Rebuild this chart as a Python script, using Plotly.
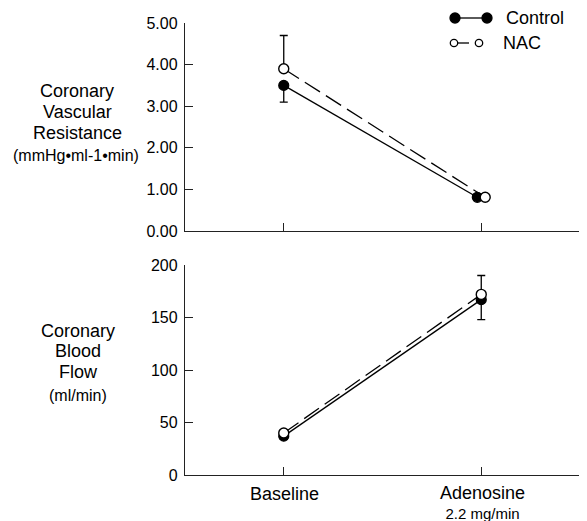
import plotly.graph_objects as go

# ---------------- data ----------------
categories = ["Baseline", "Adenosine"]
cat_pos = [0, 1]
dose_label = "2.2 mg/min"

cvr_control = [3.50, 0.81]
cvr_control_err_minus = [0.40, 0.05]
cvr_nac = [3.90, 0.81]
cvr_nac_err_plus = [0.80, 0.05]

cbf_control = [37, 167]
cbf_control_err_minus = [3, 19]
cbf_nac = [40, 172]
cbf_nac_err_plus = [3, 18]

# small horizontal jitter used in the original at the adenosine point (top panel)
top_offset_control = [0, -0.02]
top_offset_nac = [0, 0.02]

cvr_ticks = [0, 1, 2, 3, 4, 5]
cvr_ticktext = ["0.00", "1.00", "2.00", "3.00", "4.00", "5.00"]
cbf_ticks = [0, 50, 100, 150, 200]

# ---------------- layout geometry ----------------
W, H = 587, 521
OFF = 8  # page body margin offset
# target plot area in screenshot pixels: x 185..580, y 23..475
PL, PR, PT, PB = 185, 580, 23, 475
ML = PL - OFF
MR = W - (PR - OFF)
MT = PT - OFF
MB = H - (PB - OFF)
PW = PR - PL
PH = PB - PT
FONT = "Liberation Sans, Arial, sans-serif"


def px(x):
    return (x - PL) / PW


def py(y):
    return (PB - y) / PH


top_dom = [py(231), 1.0]
bot_dom = [0.0, py(265)]

fig = go.Figure()

marker_ctrl = dict(symbol="circle", size=10, color="black", line=dict(color="black", width=1.2))
marker_nac = dict(symbol="circle", size=10, color="white", line=dict(color="black", width=1.4))
DASH = "18px,7px"

# Top panel (x2, y2)
fig.add_trace(go.Scatter(
    x=[c + o for c, o in zip(cat_pos, top_offset_control)], y=cvr_control,
    mode="lines+markers", line=dict(color="black", width=1.3), marker=marker_ctrl,
    error_y=dict(type="data", symmetric=False, array=[0, 0], arrayminus=cvr_control_err_minus,
                 color="black", thickness=1.3, width=4),
    xaxis="x2", yaxis="y2", showlegend=False))
fig.add_trace(go.Scatter(
    x=[c + o for c, o in zip(cat_pos, top_offset_nac)], y=cvr_nac,
    mode="lines+markers", line=dict(color="black", width=1.3, dash=DASH), marker=marker_nac,
    error_y=dict(type="data", symmetric=False, array=cvr_nac_err_plus, arrayminus=[0, 0],
                 color="black", thickness=1.3, width=4),
    xaxis="x2", yaxis="y2", showlegend=False))

# Bottom panel (x, y)
fig.add_trace(go.Scatter(
    x=cat_pos, y=cbf_control,
    mode="lines+markers", line=dict(color="black", width=1.3), marker=marker_ctrl,
    error_y=dict(type="data", symmetric=False, array=[0, 0], arrayminus=cbf_control_err_minus,
                 color="black", thickness=1.3, width=4),
    xaxis="x", yaxis="y", showlegend=False))
fig.add_trace(go.Scatter(
    x=cat_pos, y=cbf_nac,
    mode="lines+markers", line=dict(color="black", width=1.3, dash=DASH), marker=marker_nac,
    error_y=dict(type="data", symmetric=False, array=cbf_nac_err_plus, arrayminus=[0, 0],
                 color="black", thickness=1.3, width=4),
    xaxis="x", yaxis="y", showlegend=False))

axis_common = dict(showgrid=False, zeroline=False, showline=True, linecolor="#222", linewidth=1.4,
                   ticks="inside", ticklen=8, tickwidth=1.2, tickcolor="#222", automargin=False,
                   tickfont=dict(family=FONT, size=16, color="black"))

fig.update_layout(
    width=W, height=H, autosize=False,
    margin=dict(l=ML, r=MR, t=MT, b=MB, pad=0, autoexpand=False),
    paper_bgcolor="white", plot_bgcolor="white",
    font=dict(family=FONT, color="black"),
    xaxis=dict(domain=[0, 1], anchor="y", range=[-0.5, 1.5], tickvals=cat_pos,
               showticklabels=False, **axis_common),
    yaxis=dict(domain=bot_dom, anchor="x", range=[0, 200], tickvals=cbf_ticks,
               ticklabelstandoff=3, **axis_common),
    xaxis2=dict(domain=[0, 1], anchor="y2", range=[-0.5, 1.5], tickvals=cat_pos,
                showticklabels=False, **axis_common),
    yaxis2=dict(domain=top_dom, anchor="x2", range=[0, 5], tickvals=cvr_ticks,
                ticktext=cvr_ticktext, ticklabelstandoff=3, **axis_common),
)

ann = []


def add_text(text, x, y, size, xanchor="center", yanchor="middle"):
    ann.append(dict(text=text, x=px(x), y=py(y), xref="paper", yref="paper",
                    xanchor=xanchor, yanchor=yanchor, showarrow=False,
                    font=dict(family=FONT, size=size, color="black")))


# y-axis titles
add_text("Coronary", 77, 91, 18)
add_text("Vascular", 77, 112, 18)
add_text("Resistance", 77, 133, 18)
add_text("(mmHg•ml-1•min)", 76, 156, 16)
add_text("Coronary", 78, 331, 18)
add_text("Blood", 78, 351, 18)
add_text("Flow", 78, 372, 18)
add_text("(ml/min)", 78, 395, 16)

# x category labels
add_text(categories[0], 284, 494, 18)
add_text("<span style='font-size:18px'>" + categories[1] + "</span><br>" + dose_label,
         482, 502, 15)

# legend text
add_text("Control", 504, 18, 18, xanchor="left")
add_text("NAC", 501, 43, 18, xanchor="left")

shapes = []


def circ(x, y, fill, r):
    shapes.append(dict(type="circle", xref="paper", yref="paper", xsizemode="pixel", ysizemode="pixel",
                       xanchor=px(x), yanchor=py(y), x0=-r, x1=r, y0=-r, y1=r,
                       fillcolor=fill, line=dict(color="black", width=1.3)))


def seg(x0, y0, x1, y1):
    shapes.append(dict(type="line", xref="paper", yref="paper", x0=px(x0), y0=py(y0), x1=px(x1), y1=py(y1),
                       line=dict(color="black", width=1.3)))


seg(455, 18, 487, 18)
circ(455, 18, "black", 5)
circ(487, 18, "black", 5)
seg(457, 43, 469, 43)
circ(454, 43, "white", 3.7)
circ(479, 43, "white", 3.7)

fig.update_layout(annotations=ann, shapes=shapes)

fig.write_html("out.html")
